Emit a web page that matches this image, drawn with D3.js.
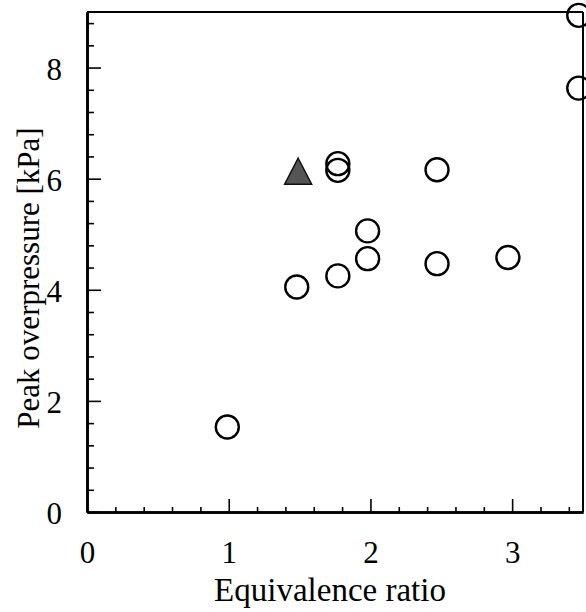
<!DOCTYPE html>
<html>
<head>
<meta charset="utf-8">
<script src="https://cdn.jsdelivr.net/npm/d3@7"></script>
<style>
  body { margin: 0; background: #fff; }
  svg text { font-family: "Liberation Serif", "Times New Roman", serif; fill: #000; }
</style>
</head>
<body>
<script>
// measured points (equivalence ratio, peak overpressure kPa)
var circleRatio = [0.99, 1.48, 1.77, 1.77, 1.77, 1.98, 1.98, 2.47, 2.47, 2.97, 3.47, 3.47];
var circlePressure = [1.53, 4.05, 4.25, 6.15, 6.27, 4.56, 5.06, 4.47, 6.16, 4.58, 7.63, 8.94];
var triangleRatio = [1.49];
var trianglePressure = [6.08];

var xMajor = [0, 1, 2, 3];
var yMajor = [0, 2, 4, 6, 8];

var width = 586, height = 612;
var plotLeft = 87, plotRight = 583, plotTop = 12, plotBottom = 512;

var svg = d3.select("body").append("svg")
    .attr("width", width)
    .attr("height", height);

var x = d3.scaleLinear().domain([0, 3.5]).range([plotLeft, plotRight]);
var y = d3.scaleLinear().domain([0, 9]).range([plotBottom, plotTop]);

// minor ticks: x every 0.2, y every 0.4
var xMinor = d3.range(1, 18).map(function(i) { return i * 0.2; })
    .filter(function(v) { return Math.abs(v - Math.round(v)) > 1e-6; });
var yMinor = d3.range(1, 23).map(function(i) { return i * 0.4; })
    .filter(function(v) { return Math.abs(v / 2 - Math.round(v / 2)) > 1e-6; });

// frame (top & right)
svg.append("line")
    .attr("x1", plotLeft).attr("x2", plotRight).attr("y1", plotTop).attr("y2", plotTop)
    .attr("stroke", "#000").attr("stroke-width", 2);
svg.append("line")
    .attr("x1", plotRight).attr("x2", plotRight).attr("y1", plotTop).attr("y2", plotBottom)
    .attr("stroke", "#000").attr("stroke-width", 2);

// x axis (minor + major in separate groups)
svg.append("g").attr("transform", "translate(0," + plotBottom + ")")
    .call(d3.axisBottom(x).tickValues(xMinor).tickSize(-5).tickSizeOuter(0).tickFormat(""));
svg.append("g").attr("transform", "translate(0," + plotBottom + ")")
    .call(d3.axisBottom(x).tickValues(xMajor).tickSize(-13).tickSizeOuter(0).tickPadding(29)
    .tickFormat(d3.format("d")));

// y axis
svg.append("g").attr("transform", "translate(" + plotLeft + ",0)")
    .call(d3.axisLeft(y).tickValues(yMinor).tickSize(-7).tickSizeOuter(0).tickFormat(""));
var gy = svg.append("g").attr("transform", "translate(" + plotLeft + ",0)")
    .call(d3.axisLeft(y).tickValues(yMajor).tickSize(-14).tickSizeOuter(0).tickPadding(25)
    .tickFormat(d3.format("d")));

svg.selectAll(".domain").attr("stroke", "#000").attr("stroke-width", 2.6);
svg.selectAll(".tick line").attr("stroke", "#000").attr("stroke-width", 1.6);
svg.selectAll(".tick text").attr("font-size", 31)
    .attr("font-family", "Liberation Serif, serif").attr("fill", "#000");
gy.selectAll(".tick text").attr("dy", "0.38em");

// axis titles
svg.append("text")
    .attr("x", 330)
    .attr("y", 601)
    .attr("text-anchor", "middle")
    .attr("font-size", 33)
    .text("Equivalence ratio");

svg.append("text")
    .attr("transform", "translate(39,278) rotate(-90)")
    .attr("text-anchor", "middle")
    .attr("font-size", 31)
    .text("Peak overpressure [kPa]");

// circles
var circleData = circleRatio.map(function(r, i) { return {x: r, y: circlePressure[i]}; });
svg.selectAll(".dot")
    .data(circleData)
    .enter().append("circle")
    .attr("class", "dot")
    .attr("cx", function(d) { return x(d.x); })
    .attr("cy", function(d) { return y(d.y); })
    .attr("r", 11.5)
    .attr("fill", "none")
    .attr("stroke", "#000")
    .attr("stroke-width", 2.4);

// triangle
var triData = triangleRatio.map(function(r, i) { return {x: r, y: trianglePressure[i]}; });
svg.selectAll(".tri")
    .data(triData)
    .enter().append("path")
    .attr("class", "tri")
    .attr("transform", function(d) { return "translate(" + x(d.x) + "," + y(d.y) + ")"; })
    .attr("d", "M0,-16L13.5,10L-13.5,10Z")
    .attr("fill", "#555")
    .attr("stroke", "#111")
    .attr("stroke-width", 1.5);
</script>
</body>
</html>
